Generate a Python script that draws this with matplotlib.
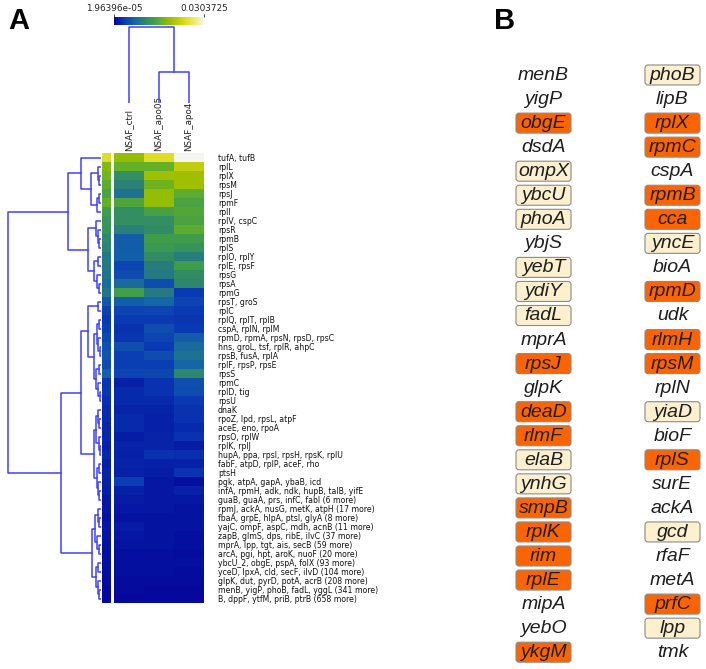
import numpy as np
import matplotlib
matplotlib.use('Agg')
import matplotlib.pyplot as plt
from matplotlib.colors import LinearSegmentedColormap, Normalize
from matplotlib.patches import FancyBboxPatch

W, H = 706, 669

# ---- panel A data ----
row_labels = [
    'tufA, tufB', 'rplL', 'rplX', 'rpsM', 'rpsJ', 'rpmF', 'rplI', 'rplV, cspC',
    'rpsR', 'rpmB', 'rplS', 'rplO, rplY', 'rplE, rpsF', 'rpsG', 'rpsA', 'rpmG',
    'rpsT, groS', 'rplC', 'rplQ, rplT, rplB', 'cspA, rplN, rplM',
    'rpmD, rpmA, rpsN, rpsD, rpsC', 'hns, groL, tsf, rplR, ahpC',
    'rpsB, fusA, rplA', 'rplF, rpsP, rpsE', 'rpsS', 'rpmC', 'rplD, tig', 'rpsU',
    'dnaK', 'rpoZ, lpd, rpsL, atpF', 'aceE, eno, rpoA', 'rpsO, rplW', 'rplK, rplJ',
    'hupA, ppa, rpsI, rpsH, rpsK, rplU', 'fabF, atpD, rplP, aceF, rho', 'ptsH',
    'pgk, atpA, gapA, ybaB, icd', 'infA, rpmH, adk, ndk, hupB, talB, yifE',
    'guaB, guaA, prs, infC, fabI (6 more)', 'rpmJ, ackA, nusG, metK, atpH (17 more)',
    'fbaA, grpE, hlpA, ptsI, glyA (8 more)', 'yajC, ompF, aspC, mdh, acnB (11 more)',
    'zapB, glmS, dps, ribE, ilvC (37 more)', 'mprA, lpp, tgt, ais, secB (59 more)',
    'arcA, pgi, hpt, aroK, nuoF (20 more)', 'ybcU_2, obgE, pspA, folX (93 more)',
    'yceD, lpxA, cld, secF, ilvD (104 more)', 'glpK, dut, pyrD, potA, acrB (208 more)',
    'menB, yigP, phoB, fadL, yggL (341 more)', 'B, dppF, ytfM, priB, ptrB (658 more)',
]
col_labels = ['NSAF_ctrl', 'NSAF_apo05', 'NSAF_apo4']

# NSAF values, in units of 1e-3
nsaf_ctrl = np.array([
    18.8, 15.8, 11.5, 10.0, 8.2, 14.3, 11.5, 11.5, 9.7, 6.1, 6.1, 6.4, 4.3, 4.9, 7.6,
    13.4, 6.4, 4.3, 3.6, 3.0, 3.3, 5.2, 3.9, 3.9, 4.3, 1.8, 2.4, 2.4, 2.1, 2.4, 2.4,
    1.5, 2.1, 1.8, 2.1, 1.8, 3.9, 1.8, 1.5, 1.2, 0.9, 1.5, 1.2, 0.9, 0.6, 0.6, 0.6,
    0.3, 0.3, 0.02]) * 1e-3
nsaf_apo05 = np.array([
    24.3, 15.8, 19.4, 16.4, 18.8, 18.8, 13.7, 11.5, 11.2, 13.1, 12.8, 11.2, 9.4, 9.1,
    4.9, 9.1, 7.0, 4.3, 3.6, 4.9, 4.3, 3.6, 4.9, 3.9, 4.6, 3.0, 3.0, 2.4, 2.1, 1.8,
    1.8, 2.1, 2.1, 3.0, 1.8, 1.5, 1.2, 1.2, 1.2, 1.2, 0.9, 0.9, 0.9, 0.9, 0.6, 0.6,
    0.6, 0.3, 0.15, 0.02]) * 1e-3
nsaf_apo4 = np.array([
    30.3725, 21.9, 19.4, 19.4, 15.2, 14.0, 14.6, 14.0, 15.2, 13.1, 12.1, 9.4, 13.1,
    11.2, 10.6, 3.6, 4.3, 3.6, 3.3, 3.6, 6.1, 7.6, 8.2, 7.0, 10.6, 5.2, 4.9, 3.6,
    3.0, 3.0, 2.4, 3.0, 1.5, 2.7, 1.8, 3.0, 0.6, 1.8, 1.2, 0.9, 0.9, 0.9, 0.6, 0.6,
    0.3, 0.6, 0.3, 0.3, 0.15, 0.02]) * 1e-3
vmin, vmax = 1.96396e-05, 0.0303725

# row clustering: [height, left, right], leaves are row indices
row_tree = [1.0,
    [0.359,
        [0.217, 0, [0.109, [0.033, 1, [0.022, 2, 3]], [0.043, [0.022, 4, 5], 6]]],
        [0.141, [0.054, 7, [0.033, 8, [0.02, 9, 10]]],
                [0.076, [0.03, 11, 12], [0.043, 13, [0.025, 14, 15]]]]],
    [0.435,
        [0.217,
            [0.141, [0.03, 16, 17],
                    [0.076, [0.043, [0.02, 18, 19], [0.03, 20, [0.015, 21, 22]]],
                            [0.054, [0.025, 23, 24], [0.033, 25, [0.015, 26, 27]]]]],
            [0.076, [0.054, [0.03, 28, [0.02, 29, 30]], [0.025, 31, [0.015, 32, 33]]],
                    [0.043, [0.025, 34, 35], [0.033, 36, [0.02, 37, 38]]]]],
        [0.098, [0.065, [0.03, 39, [0.02, 40, 41]], [0.04, 42, [0.025, 43, 44]]],
                [0.05, [0.03, 45, 46], [0.035, 47, [0.02, 48, 49]]]]]]
col_tree = [1.0, 0, [0.41, 1, 2]]

# ---- panel B data ----
left_genes = ['menB', 'yigP', 'obgE', 'dsdA', 'ompX', 'ybcU', 'phoA', 'ybjS', 'yebT',
              'ydiY', 'fadL', 'mprA', 'rpsJ', 'glpK', 'deaD', 'rlmF', 'elaB', 'ynhG',
              'smpB', 'rplK', 'rim', 'rplE', 'mipA', 'yebO', 'ykgM']
left_marks = ['', '', 'strong', '', 'weak', 'weak', 'weak', '', 'weak', 'weak', 'weak',
              '', 'strong', '', 'strong', 'strong', 'weak', 'weak', 'strong', 'strong',
              'strong', 'strong', '', '', 'strong']
right_genes = ['phoB', 'lipB', 'rplX', 'rpmC', 'cspA', 'rpmB', 'cca', 'yncE', 'bioA',
               'rpmD', 'udk', 'rlmH', 'rpsM', 'rplN', 'yiaD', 'bioF', 'rplS', 'surE',
               'ackA', 'gcd', 'rfaF', 'metA', 'prfC', 'lpp', 'tmk']
right_marks = ['weak', '', 'strong', 'strong', '', 'strong', 'strong', 'weak', '',
               'strong', '', 'strong', 'strong', '', 'weak', '', 'strong', '', '',
               'weak', '', '', 'strong', 'weak', '']

mark_colors = {'strong': '#fc6400', 'weak': '#fdf0cf'}
line_color = '#4040ff'

cmap = LinearSegmentedColormap.from_list('nsaf', [
    (0.0, '#04089c'), (0.12, '#0a3cb4'), (0.22, '#1464a8'), (0.32, '#2a8078'),
    (0.42, '#3a9a50'), (0.52, '#64b028'), (0.64, '#a0c000'), (0.78, '#dcd818'),
    (0.9, '#eeec70'), (1.0, '#f6f6f0')])
norm = Normalize(vmin=vmin, vmax=vmax)

fig = plt.figure(figsize=(W / 100, H / 100), dpi=100)


def px_axes(x0, y0, x1, y1):
    return fig.add_axes([x0 / W, 1 - y1 / H, (x1 - x0) / W, (y1 - y0) / H])


def draw_tree(ax, node, left_side):
    if isinstance(node, int):
        return float(node), 0.0
    h, a, b = node
    p1, h1 = draw_tree(ax, a, left_side)
    p2, h2 = draw_tree(ax, b, left_side)
    if left_side:
        ax.plot([h1, h, h, h2], [p1, p1, p2, p2], color=line_color, lw=1.1)
    else:
        ax.plot([p1, p1, p2, p2], [h1, h, h, h2], color=line_color, lw=1.1)
    return (p1 + p2) / 2, h


# background axes in pixel units (letters + panel B)
bg = fig.add_axes([0, 0, 1, 1])
bg.set_xlim(0, W)
bg.set_ylim(H, 0)
bg.axis('off')
bg.text(8, 29, 'A', fontsize=21, fontweight='bold', family='Liberation Sans')
bg.text(494, 29, 'B', fontsize=21, fontweight='bold', family='Liberation Sans')

n = len(row_labels)
hm_top, hm_bot = 153, 603
data = np.column_stack([nsaf_ctrl, nsaf_apo05, nsaf_apo4])

# heatmap
ax = px_axes(114, hm_top, 204, hm_bot)
ax.imshow(data, cmap=cmap, norm=norm, aspect='auto', interpolation='nearest')
ax.set_xticks([])
ax.set_yticks(range(n))
ax.set_yticklabels(row_labels, fontsize=5.6, color='#111111')
ax.yaxis.tick_right()
ax.tick_params(axis='y', length=0, pad=10)
for s in ax.spines.values():
    s.set_visible(False)

# side colour column = row mean
side = px_axes(102, hm_top, 111, hm_bot)
side.imshow(data.mean(axis=1)[:, None], cmap=cmap, norm=norm, aspect='auto',
            interpolation='nearest')
side.axis('off')

# row dendrogram
rd = px_axes(7, hm_top, 101, hm_bot)
draw_tree(rd, row_tree, True)
rd.set_xlim(1.01, 0)
rd.set_ylim(n - 0.5, -0.5)
rd.axis('off')

# column dendrogram
cd = px_axes(114, 26, 204, 103)
draw_tree(cd, col_tree, False)
cd.set_xlim(-0.5, 2.5)
cd.set_ylim(0, 1.01)
cd.axis('off')

for i, lab in enumerate(col_labels):
    bg.text(129 + 30 * i, 151, lab, rotation=90, fontsize=6.3, ha='center',
            va='bottom', color='#222222')

# colour bar
cax = px_axes(114, 17, 204, 25)
cb = matplotlib.colorbar.ColorbarBase(cax, cmap=cmap, norm=norm, orientation='horizontal')
cb.outline.set_visible(False)
cb.set_ticks([vmin, vmax])
cb.set_ticklabels(['1.96396e-05', '0.0303725'])
cax.xaxis.set_ticks_position('top')
cax.tick_params(axis='x', length=2, width=0.6, pad=1, labelsize=6.4, colors='#222222')

# ---- panel B ----
row0, step = 75, 24.05
for genes, marks, cx in [(left_genes, left_marks, 543.5), (right_genes, right_marks, 672.5)]:
    for i, (g, m) in enumerate(zip(genes, marks)):
        y = row0 + step * i
        if m:
            box = FancyBboxPatch((cx - 27.5, y - 10), 55, 20,
                                 boxstyle='round,pad=0,rounding_size=3',
                                 facecolor=mark_colors[m], edgecolor='#8a8a8a', lw=0.8)
            bg.add_patch(box)
        bg.text(cx, y + 0.5, g, fontsize=14, style='italic', family='Liberation Sans',
                ha='center', va='center', color='#1e1e1e')

fig.savefig('out.png', dpi=100)
